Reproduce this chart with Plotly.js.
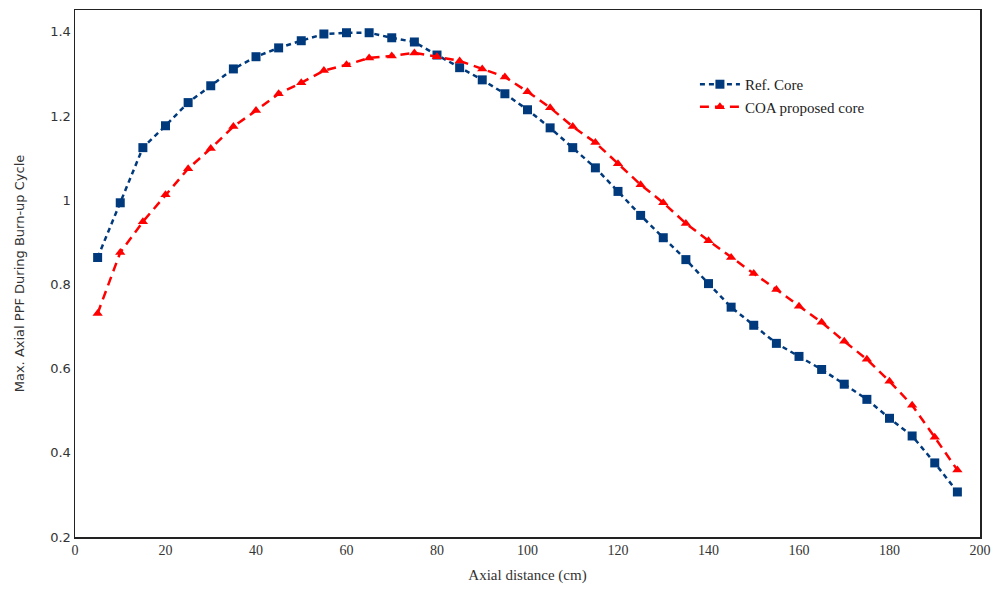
<!DOCTYPE html>
<html>
<head>
<meta charset="utf-8">
<script src="https://cdn.plot.ly/plotly-3.0.1.min.js"></script>
<style>html,body{margin:0;padding:0;background:#fff;}#chart{width:997px;height:594px;}</style>
</head>
<body>
<div id="chart"></div>
<script>
const axialDistance = [5,10,15,20,25,30,35,40,45,50,55,60,65,70,75,80,85,90,95,100,105,110,115,120,125,130,135,140,145,150,155,160,165,170,175,180,185,190,195];
const refCore = [0.864,0.994,1.125,1.177,1.232,1.272,1.312,1.341,1.362,1.379,1.395,1.398,1.398,1.386,1.376,1.345,1.315,1.286,1.253,1.215,1.172,1.125,1.077,1.021,0.964,0.911,0.859,0.802,0.746,0.703,0.660,0.629,0.598,0.563,0.527,0.482,0.440,0.376,0.307];
const coaCore = [0.731,0.876,0.949,1.013,1.075,1.123,1.175,1.213,1.253,1.279,1.308,1.322,1.338,1.343,1.350,1.341,1.331,1.312,1.293,1.258,1.220,1.175,1.137,1.087,1.037,0.994,0.945,0.904,0.864,0.826,0.788,0.748,0.710,0.665,0.622,0.570,0.513,0.437,0.359];
const seriesNames = ["Ref. Core", "COA proposed core"];
const xTickVals = [0,20,40,60,80,100,120,140,160,180,200];
const yTickVals = [0.2,0.4,0.6,0.8,1,1.2,1.4];
const yTickText = ["0.2","0.4","0.6","0.8","1","1.2","1.4"];

const serif = "Liberation Serif, DejaVu Serif, serif";
const sans = "DejaVu Sans, Verdana, sans-serif";

const traces = [
  {
    x: axialDistance, y: refCore, name: seriesNames[0], type: "scatter", mode: "lines+markers",
    line: {color: "#003A7D", width: 2.5, dash: "5px,4px"},
    marker: {symbol: "square", size: 9, color: "#003A7D"}
  },
  {
    x: axialDistance, y: coaCore, name: seriesNames[1], type: "scatter", mode: "lines+markers",
    line: {color: "#FF0000", width: 2.5, dash: "9px,6px"},
    marker: {symbol: "triangle-up", size: 9, color: "#FF0000"}
  }
];

const layout = {
  width: 997, height: 594,
  margin: {l: 75, r: 17, t: 10, b: 57},
  paper_bgcolor: "#fff", plot_bgcolor: "#fff",
  showlegend: true,
  legend: {
    x: 0.685, y: 0.89, xanchor: "left", yanchor: "top",
    font: {family: serif, size: 15, color: "#222"},
    bgcolor: "rgba(0,0,0,0)", tracegroupgap: 8, itemwidth: 40
  },
  xaxis: {
    range: [0, 200], tickvals: xTickVals, showgrid: false, zeroline: false,
    showline: true, mirror: true, linecolor: "#222", linewidth: 1.5,
    ticks: "", tickfont: {family: serif, size: 14, color: "#333"},
    title: {text: "Axial distance (cm)", font: {family: serif, size: 15, color: "#333"}, standoff: 12}
  },
  yaxis: {
    range: [0.2, 1.452], tickvals: yTickVals, ticktext: yTickText, showgrid: false, zeroline: false,
    showline: true, mirror: true, linecolor: "#222", linewidth: 1.5,
    ticks: "", tickfont: {family: sans, size: 13, color: "#333"},
    title: {text: "Max. Axial PPF During Burn-up Cycle", font: {family: sans, size: 13, color: "#333"}, standoff: 22}
  }
};

Plotly.newPlot("chart", traces, layout, {displayModeBar: false, staticPlot: true});
</script>
</body>
</html>
